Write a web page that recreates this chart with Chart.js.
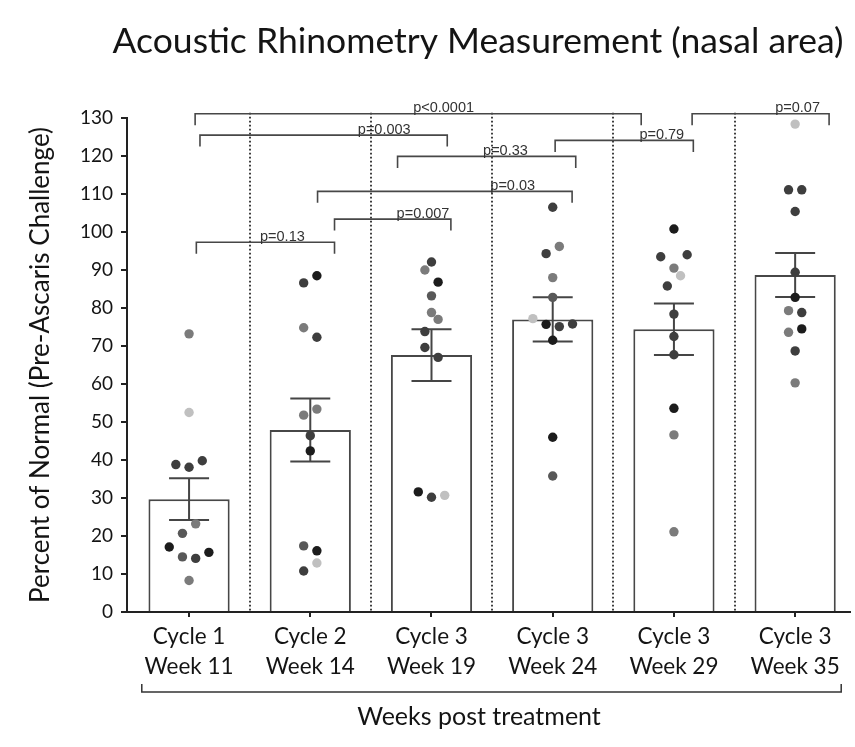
<!DOCTYPE html>
<html lang="en">
<head>
<meta charset="UTF-8">
<title>Acoustic Rhinometry Measurement (nasal area)</title>
<script src="https://cdn.jsdelivr.net/npm/chart.js"></script>
<style>
  html, body { margin: 0; padding: 0; background: #fff; }
  #wrap { width: 855px; height: 747px; position: relative; }
</style>
</head>
<body>
<div id="wrap"><canvas id="rhinoChart"></canvas></div>
<script>
  // groups on the x axis
  const cycleLabels = ["Cycle 1", "Cycle 2", "Cycle 3", "Cycle 3", "Cycle 3", "Cycle 3"];
  const weekLabels = ["Week 11", "Week 14", "Week 19", "Week 24", "Week 29", "Week 35"];
  const yTickValues = [0, 10, 20, 30, 40, 50, 60, 70, 80, 90, 100, 110, 120, 130];

  // individual animals, percent of pre-challenge nasal area
  const week11 = [73.2, 52.5, 38.8, 38.1, 39.8, 20.7, 23.2, 17.1, 14.5, 14.1, 15.7, 8.3];
  const week14 = [86.6, 88.5, 74.8, 72.3, 51.8, 53.4, 46.4, 42.4, 17.4, 16.1, 10.8, 12.9];
  const week19 = [92.1, 90.0, 86.8, 83.2, 78.8, 73.8, 77.0, 69.6, 67.0, 31.6, 30.2, 30.7];
  const week24 = [106.5, 94.3, 96.2, 88.0, 82.8, 77.2, 75.7, 75.1, 75.8, 71.5, 46.0, 35.8];
  const week29 = [100.8, 93.5, 90.5, 94.0, 85.8, 88.5, 78.4, 72.5, 67.7, 53.6, 46.6, 21.1];
  const week35 = [128.4, 111.1, 111.1, 105.4, 89.4, 82.8, 79.3, 78.8, 73.6, 74.5, 68.7, 60.3];

  // group mean and SEM
  const barMean = [29.7, 47.9, 67.6, 77.0, 74.4, 88.7];
  const barSem = [5.5, 8.3, 6.8, 5.8, 6.8, 5.8];

  // pairwise comparisons: label, span (in group units), height (in % units), label centre
  const pLabels = ["p<0.0001", "p=0.003", "p=0.33", "p=0.03", "p=0.007", "p=0.13", "p=0.79", "p=0.07"];
  const pFrom = [0.05, 0.09, 1.72, 1.06, 1.20, 0.06, 3.02, 4.15];
  const pTo = [3.73, 2.13, 3.19, 3.16, 2.16, 1.20, 4.16, 5.28];
  const pLevel = [131.1, 125.5, 119.9, 110.7, 103.4, 97.3, 124.1, 131.1];
  const pTextAt = [2.10, 1.61, 2.61, 2.67, 1.93, 0.77, 3.90, 5.02];

  const chartTitle = "Acoustic Rhinometry Measurement (nasal area)";
  const xTitle = "Weeks post treatment";
  const yTitle = "Percent of Normal (Pre-Ascaris Challenge)";

  // grey level of each animal's dot
  const palette = ["#1c1c1c", "#3e3e3e", "#585858", "#7b7b7b", "#c0c0c0"];
  const tones = [
    [3, 4, 1, 1, 1, 2, 3, 0, 2, 1, 0, 3],
    [1, 0, 3, 1, 3, 3, 1, 0, 2, 0, 1, 4],
    [1, 3, 0, 2, 3, 1, 3, 1, 1, 0, 1, 4],
    [1, 1, 3, 3, 2, 4, 0, 1, 1, 0, 0, 2],
    [0, 1, 3, 1, 1, 4, 1, 1, 1, 0, 3, 3],
    [4, 1, 1, 1, 1, 0, 3, 1, 3, 0, 1, 3]
  ];

  const groups = [week11, week14, week19, week24, week29, week35];
  const fontFace = "Lato, 'Open Sans', sans-serif";
  const ink = "#141414";

  // spread dots that sit at similar heights side by side
  const rowSpan = 3.55;
  const dotStep = 0.109;
  function swarm(values) {
    const order = values.map((v, i) => i).sort((a, b) => values[a] - values[b]);
    const offsets = new Array(values.length).fill(0);
    let k = 0;
    while (k < order.length) {
      const base = values[order[k]];
      const row = [];
      while (k < order.length && values[order[k]] - base <= rowSpan) row.push(order[k++]);
      row.sort((a, b) => a - b);
      row.forEach((idx, j) => { offsets[idx] = (j - (row.length - 1) / 2) * dotStep; });
    }
    return offsets;
  }

  const dots = [];
  const dotColors = [];
  groups.forEach((vals, g) => {
    const offs = swarm(vals);
    vals.forEach((v, j) => {
      dots.push({ x: g + offs[j], y: v });
      dotColors.push(palette[tones[g][j]]);
    });
  });

  const decorations = {
    id: "decorations",
    beforeDatasetsDraw(chart) {
      // dotted dividers between groups
      const { ctx, scales: { x, y } } = chart;
      ctx.save();
      ctx.strokeStyle = "#2a2a2a";
      ctx.lineWidth = 1.8;
      ctx.setLineDash([1.8, 2.2]);
      for (let i = 0; i < cycleLabels.length - 1; i++) {
        const px = Math.round(x.getPixelForValue(i + 0.5));
        ctx.beginPath();
        ctx.moveTo(px, y.getPixelForValue(131.4));
        ctx.lineTo(px, y.getPixelForValue(0));
        ctx.stroke();
      }
      ctx.restore();
    },
    afterDatasetDraw(chart, args) {
      if (args.meta.type !== "bar") return;
      // mean +/- SEM
      const { ctx, scales: { x, y } } = chart;
      ctx.save();
      ctx.strokeStyle = "#454545";
      ctx.lineWidth = 2;
      barMean.forEach((m, i) => {
        const cx = x.getPixelForValue(i);
        const top = y.getPixelForValue(m + barSem[i]);
        const bot = y.getPixelForValue(m - barSem[i]);
        ctx.beginPath();
        ctx.moveTo(cx, top); ctx.lineTo(cx, bot);
        ctx.moveTo(cx - 20, top); ctx.lineTo(cx + 20, top);
        ctx.moveTo(cx - 20, bot); ctx.lineTo(cx + 20, bot);
        ctx.stroke();
      });
      ctx.restore();
    },
    afterDraw(chart) {
      const { ctx, scales: { x, y }, chartArea } = chart;
      ctx.save();

      // significance brackets
      ctx.strokeStyle = "#474747";
      ctx.lineWidth = 1.6;
      ctx.fillStyle = "#333";
      ctx.font = "14.5px 'Liberation Sans', Arial, sans-serif";
      ctx.textAlign = "center";
      ctx.textBaseline = "alphabetic";
      pLabels.forEach((label, i) => {
        const x0 = x.getPixelForValue(pFrom[i]);
        const x1 = x.getPixelForValue(pTo[i]);
        const py = y.getPixelForValue(pLevel[i]);
        ctx.beginPath();
        ctx.moveTo(x0, py + 11.5);
        ctx.lineTo(x0, py);
        ctx.lineTo(x1, py);
        ctx.lineTo(x1, py + 11.5);
        ctx.stroke();
        ctx.fillText(label, x.getPixelForValue(pTextAt[i]), py - 1.5);
      });

      // bracket grouping all time points
      const by = chartArea.bottom + 80;
      const bx0 = x.getPixelForValue(-0.39);
      const bx1 = x.getPixelForValue(5.38);
      ctx.strokeStyle = "#333";
      ctx.lineWidth = 1.5;
      ctx.beginPath();
      ctx.moveTo(bx0, by - 8); ctx.lineTo(bx0, by);
      ctx.lineTo(bx1, by); ctx.lineTo(bx1, by - 8);
      ctx.stroke();

      // x axis title under the bracket
      ctx.fillStyle = ink;
      ctx.font = "25px " + fontFace;
      ctx.fillText(xTitle, 479, 725);

      // chart title
      ctx.font = "35.5px " + fontFace;
      ctx.fillText(chartTitle, 478, 53);
      ctx.restore();
    }
  };

  new Chart(document.getElementById("rhinoChart"), {
    type: "bar",
    data: {
      datasets: [
        {
          type: "scatter",
          data: dots,
          backgroundColor: dotColors,
          pointBackgroundColor: dotColors,
          pointRadius: 4.7,
          pointBorderWidth: 0,
          clip: false,
          order: 0
        },
        {
          type: "bar",
          data: barMean.map((m, i) => ({ x: i, y: m })),
          backgroundColor: "#ffffff",
          borderColor: "#474747",
          borderWidth: 2,
          barPercentage: 0.67,
          categoryPercentage: 1,
          order: 1
        }
      ]
    },
    options: {
      responsive: true,
      maintainAspectRatio: false,
      animation: false,
      layout: { padding: { top: 118, left: 0, right: 0, bottom: 0 } },
      plugins: {
        legend: { display: false },
        tooltip: { enabled: false },
        title: { display: false }
      },
      scales: {
        x: {
          type: "linear",
          offset: false,
          min: -0.512,
          max: 5.455,
          afterBuildTicks: s => { s.ticks = cycleLabels.map((c, i) => ({ value: i })); },
          afterFit: s => { s.height = 135; },
          ticks: {
            callback: v => [cycleLabels[v], weekLabels[v]],
            font: { family: fontFace, size: 22.5, lineHeight: 30 / 22.5 },
            color: ink,
            padding: 5,
            maxRotation: 0,
            autoSkip: false
          },
          grid: { display: true, offset: false, drawOnChartArea: false, drawTicks: true, tickLength: 5, color: "#222", lineWidth: 2 },
          border: { display: true, color: "#222", width: 2 }
        },
        y: {
          min: 0,
          max: 130,
          afterBuildTicks: s => { s.ticks = yTickValues.map(v => ({ value: v })); },
          afterFit: s => { s.width = 127; },
          ticks: {
            font: { family: fontFace, size: 19 },
            color: ink,
            padding: 8
          },
          grid: { display: true, drawOnChartArea: false, drawTicks: true, tickLength: 6, color: "#222", lineWidth: 2 },
          border: { display: true, color: "#222", width: 2 },
          title: {
            display: true,
            text: yTitle,
            font: { family: fontFace, size: 26 },
            color: ink,
            padding: { top: 25, bottom: 0 }
          }
        }
      }
    },
    plugins: [decorations]
  });
</script>
</body>
</html>
